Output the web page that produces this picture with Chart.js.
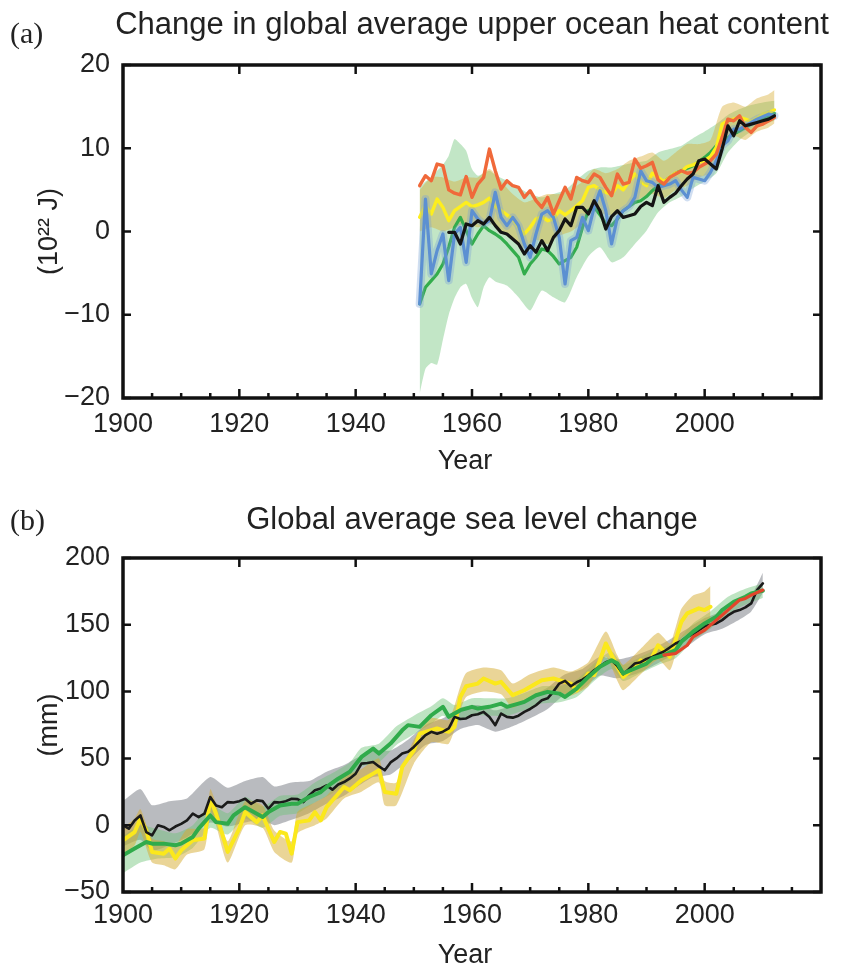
<!DOCTYPE html>
<html>
<head>
<meta charset="utf-8">
<script src="https://cdn.jsdelivr.net/npm/chart.js@4.4.1/dist/chart.umd.min.js"></script>
<style>
  html, body { margin: 0; padding: 0; background: #fff; overflow: hidden; }
  #wrap { position: relative; width: 841px; height: 969px; }
  canvas { position: absolute; left: 0; }
</style>
</head>
<body>
<div id="wrap">
  <canvas id="heat" width="841" height="493" style="top:0"></canvas>
  <canvas id="sea" width="841" height="476" style="top:493px"></canvas>
</div>
<script>
// ---------------- data: (a) upper ocean heat content, 10^22 J ----------------
function yearsFrom(a, b) { const out = []; for (let y = a; y <= b; y++) out.push(y); return out; }

const xTickLabels = [1900, 1920, 1940, 1960, 1980, 2000];
const heatTicks = [-20, -10, 0, 10, 20];
const seaTicks = [-50, 0, 50, 100, 150, 200];

const heatYears = yearsFrom(1951, 2012);
const heatOrange = [5.5, 6.7, 6.1, 8.1, 7.9, 5.0, 4.6, 4.4, 6.6, 4.1,
  5.7, 6.5, 9.9, 7.3, 5.1, 6.1, 5.5, 5.3, 4.1, 4.9,
  3.7, 2.9, 4.1, 2.1, 3.7, 5.3, 3.9, 6.5, 6.1, 5.9,
  6.9, 6.5, 5.3, 4.3, 6.9, 5.7, 5.9, 8.7, 7.6, 7.9,
  8.3, 6.2, 5.7, 6.5, 6.9, 7.3, 7.0, 7.1, 7.7, 8.1,
  8.5, 9.3, 11.3, 13.5, 13.3, 13.9, 12.5, 11.9, 12.7, 12.9,
  13.3, 13.7];
const heatYellow = [1.7, 3.1, 2.1, 3.9, 2.9, 1.3, 2.5, 3.0, 3.5, 3.0,
  3.2, 3.5, 4.0, 3.0, 2.5, 2.0, 1.5, 0.5, -0.3, 0.5,
  1.5, 1.8, 1.3, 1.5, 2.5, 2.0, 2.5, 3.1, 3.7, 5.3,
  5.5, 5.0, 4.7, 4.5, 5.5, 5.0, 6.0, 6.9, 6.0, 5.5,
  7.0, 6.5, 6.0, 6.5, 7.0, 7.2, 7.8, 8.0, 8.3, 8.5,
  9.0, 10.1, 12.9, 13.3, 13.5, 13.7, 13.5, 13.2, 13.6, 14.1,
  14.3, 14.6];
const heatBlue = [-8.7, 3.9, -5.1, -2.3, -0.3, -5.9, -0.3, 0.5, -3.7, 2.5,
  1.5, 0.9, 1.3, 4.7, 1.7, 0.7, 1.7, 0.7, -1.5, -3.1,
  -0.3, 2.1, 2.5, 1.7, -0.7, -6.3, -1.1, -0.7, 1.7, 0.1,
  2.9, 4.9, 2.5, -1.5, 1.7, 2.5, 3.0, 4.1, 7.3, 6.1,
  5.9, 5.3, 5.5, 5.7, 6.1, 5.0, 4.1, 6.5, 6.3, 6.1,
  7.1, 8.5, 10.3, 10.9, 12.3, 12.3, 12.7, 13.1, 13.5, 13.8,
  14.1, 13.9];
const heatGreen = [-8.7, -6.7, -5.9, -5.1, -3.9, -1.9, 0.5, 1.7, 0.1, -1.5,
  -0.3, 0.7, 0.1, -0.3, -0.8, -1.5, -2.3, -3.1, -5.1, -3.9,
  -3.1, -2.1, -2.3, -3.0, -3.9, -3.5, -3.1, -1.9, 0.5, 2.5,
  2.9, 2.0, 1.0, 0.7, 1.5, 2.5, 3.0, 3.5, 3.7, 4.2,
  4.9, 5.5, 6.0, 6.5, 7.0, 7.3, 7.6, 7.9, 8.4, 8.9,
  9.5, 10.3, 10.8, 11.3, 11.7, 12.1, 12.5, 12.9, 13.3, 13.5,
  13.9, 14.2];
const heatBlack = [null, null, null, null, null,
  -0.1, -0.1, -1.5, 0.9, 0.7,
  1.3, 0.9, 1.7, 0.7, -0.1, -0.3, -0.9, -1.5, -2.7, -1.7,
  -2.5, -1.1, -2.3, -0.7, 0.1, 1.5, 0.7, 2.9, 2.9, 2.1,
  3.7, 2.5, 0.3, 1.8, 2.5, 1.7, 1.9, 2.1, 3.0, 3.5,
  3.1, 5.5, 3.5, 4.1, 4.6, 5.5, 6.3, 6.9, 8.5, 8.7,
  8.1, 7.5, 9.9, 12.7, 11.5, 13.3, 12.7, 12.9, 13.1, 13.3,
  13.5, 13.9];

// uncertainty bands, panel (a)
const heatGreenBandYears = [1951, 1952, 1953, 1954, 1955, 1956, 1957, 1958, 1959, 1960, 1961, 1962, 1963, 1964,
  1966, 1968, 1970, 1972, 1974, 1976, 1978, 1980, 1982, 1984, 1986, 1988, 1990, 1992, 1994, 1996, 1998,
  2000, 2002, 2004, 2006, 2008, 2010, 2012];
const heatGreenLow = [-19.5, -16.5, -15.8, -16.0, -13.0, -10.0, -8.0, -6.7, -6.3, -8.0, -9.1, -6.7, -5.5, -6.0,
  -6.5, -7.9, -9.5, -7.1, -7.9, -8.5, -5.5, -3.0, -1.9, -3.7, -3.1, -1.5, 0.1, 2.3, 3.5, 4.2, 5.2,
  6.0, 7.0, 9.5, 11.0, 12.0, 12.8, 13.3];
const heatGreenHigh = [5.3, 6.0, 6.5, 7.3, 8.0, 9.1, 11.1, 10.5, 9.7, 7.5, 6.7, 7.0, 7.3, 6.8,
  6.1, 5.3, 4.5, 4.1, 4.5, 5.0, 6.2, 7.3, 7.7, 7.7, 8.0, 8.3, 8.5, 9.5, 9.9, 10.3, 11.2,
  12.0, 12.9, 14.0, 14.7, 15.2, 15.5, 15.7];
const heatGoldBandYears = [1951, 1953, 1955, 1957, 1959, 1961, 1963, 1965, 1967, 1969, 1971, 1973, 1975, 1977,
  1979, 1981, 1983, 1985, 1987, 1989, 1991, 1993, 1995, 1997, 1999, 2001, 2003, 2005, 2007, 2009, 2011, 2012];
const heatGoldLow = [0.0, 0.5, 0.0, 0.5, 1.0, 0.5, 1.0, 0.0, -1.0, -2.0, -1.0, -1.5, -0.5, 0.0,
  1.0, 2.5, 2.0, 2.0, 3.0, 4.0, 4.5, 4.0, 5.0, 5.5, 6.5, 7.0, 10.0, 11.5, 11.0, 12.0, 12.5, 13.0];
const heatGoldHigh = [5.0, 6.5, 6.5, 6.0, 6.5, 6.5, 7.5, 6.0, 4.5, 3.5, 4.0, 4.5, 4.5, 5.0,
  6.0, 7.5, 7.0, 7.5, 8.5, 9.0, 9.5, 8.5, 9.5, 10.5, 10.5, 11.0, 15.0, 15.5, 15.0, 16.0, 16.5, 17.0];

// ---------------- data: (b) global mean sea level, mm ----------------
const seaBlackYears = yearsFrom(1900, 2010);
const seaBlack = [-0.1, -2.6, 3.6, 7.3, -5.1, -7.6, -0.1, -1.3, -3.8, -1.0,
  1.0, 3.6, 8.6, 6.0, 8.6, 21.1, 14.8, 13.5, 17.3, 17.0,
  18.0, 19.8, 16.0, 18.6, 18.0, 12.3, 17.3, 17.0, 18.0, 19.8,
  19.5, 17.3, 22.3, 26.1, 27.5, 29.8, 26.6, 30.5, 32.3, 35.0,
  38.6, 46.1, 46.5, 47.3, 44.0, 41.1, 47.0, 50.0, 53.6, 55.0,
  58.6, 63.0, 67.4, 69.9, 68.5, 70.0, 72.4, 81.1, 79.5, 79.9,
  82.3, 83.0, 84.8, 81.0, 74.9, 83.6, 81.1, 80.5, 82.0, 84.8,
  87.0, 89.8, 93.6, 95.0, 100.0, 106.0, 108.0, 104.0, 107.0, 109.0,
  112.0, 116.0, 119.0, 122.0, 123.5, 119.0, 113.0, 117.0, 121.0, 122.0,
  124.5, 126.0, 128.0, 130.0, 133.0, 136.0, 138.0, 141.0, 143.0, 146.0,
  149.0, 150.0, 151.0, 153.5, 157.0, 159.7, 161.0, 163.0, 166.0, 176.0,
  181.0];

const seaGreenYears = [1900, 1902, 1904, 1905, 1907, 1909, 1910, 1912, 1913, 1915, 1916, 1918, 1919, 1921, 1922,
  1924, 1925, 1927, 1929, 1930, 1932, 1934, 1935, 1937, 1939, 1941, 1943, 1944, 1946, 1948, 1949, 1951,
  1953, 1955, 1956, 1958, 1960, 1961, 1963, 1965, 1966, 1968, 1969, 1971, 1973, 1975, 1976, 1978, 1980,
  1982, 1984, 1985, 1986, 1988, 1990, 1991, 1993, 1995, 1996, 1998, 2000, 2002, 2003, 2005, 2007, 2008, 2010];
const seaGreen = [-22.5, -17.5, -12.6, -13.8, -13.8, -15.0, -13.8, -8.8, -2.6, 7.3, 2.3, 1.1, 7.3, 13.5, 11.0,
  6.1, 9.8, 14.8, 16.0, 16.0, 21.1, 24.8, 28.6, 34.8, 40.0, 51.1, 57.3, 53.6, 61.1, 71.0, 74.9, 73.6,
  82.3, 88.6, 81.1, 86.1, 88.6, 87.3, 88.6, 91.0, 88.6, 91.0, 92.3, 97.3, 99.8, 98.5, 96.0, 102.2, 111.0,
  118.6, 123.5, 121.0, 113.6, 117.3, 121.0, 124.8, 127.3, 131.0, 137.3, 144.8, 151.0, 156.0, 161.0, 167.2, 171.0, 173.5, 175.5];

const seaYellowYears = [1900, 1902, 1903, 1904, 1905, 1907, 1908, 1909, 1910, 1912, 1914, 1915, 1916, 1918, 1920,
  1921, 1923, 1924, 1926, 1927, 1928, 1929, 1930, 1932, 1933, 1934, 1935, 1937, 1938, 1939, 1941, 1943,
  1944, 1945, 1947, 1948, 1950, 1951, 1953, 1954, 1956, 1957, 1958, 1959, 1961, 1962, 1964, 1965, 1967,
  1969, 1971, 1972, 1974, 1976, 1977, 1978, 1980, 1981, 1982, 1983, 1985, 1986, 1988, 1989, 1990, 1991,
  1992, 1994, 1995, 1996, 1997, 1999, 2000, 2001];
const seaYellow = [-11.3, -5.1, 4.9, -3.8, -20.0, -21.3, -17.5, -25.0, -18.8, -11.3, -10.0, 19.8, 8.6, -20.0, -2.6,
  9.8, 2.3, 7.3, -12.6, -5.1, -6.3, -21.3, 2.3, 3.6, 9.8, 3.6, 13.5, 23.5, 28.6, 26.1, 33.6, 38.6,
  41.1, 24.9, 23.6, 43.6, 56.1, 68.6, 71.1, 72.4, 69.9, 73.6, 96.0, 104.0, 106.0, 109.8, 106.0, 107.3, 97.3,
  101.0, 106.0, 108.5, 109.8, 107.3, 106.0, 101.0, 113.6, 112.3, 123.5, 136.0, 118.6, 111.0, 118.6, 123.5, 121.0, 126.0,
  134.7, 126.0, 138.5, 152.3, 158.5, 162.3, 161.0, 163.5];

const seaRedYears = [1993, 1995, 1997, 1998, 2000, 2002, 2003, 2004, 2006, 2007, 2008, 2010];
const seaRed = [127.3, 128.5, 134.7, 141.0, 146.0, 153.5, 157.2, 161.0, 168.5, 169.7, 172.2, 176.0];

// uncertainty bands, panel (b)
const seaGreyBandYears = [1900, 1903, 1905, 1908, 1911, 1915, 1918, 1921, 1924, 1926, 1929, 1932, 1935, 1938, 1940,
  1943, 1946, 1949, 1952, 1955, 1958, 1961, 1964, 1967, 1970, 1973, 1976, 1979, 1982, 1985, 1988, 1991,
  1994, 1997, 2000, 2003, 2006, 2008, 2010];
const seaGreyLow = [-16, -11, -19, -15, -9, 2, -1, 2, 4, 0, 4, 9, 16, 22, 28,
  36, 38, 48, 60, 63, 72, 75, 70, 74, 80, 87, 98, 102, 112, 110, 113, 119,
  126, 134, 143, 147, 154, 160, 174];
const seaGreyHigh = [18, 27, 15, 18, 20, 36, 28, 33, 36, 29, 32, 33, 40, 45, 50,
  56, 56, 64, 75, 80, 88, 90, 86, 90, 96, 103, 113, 117, 126, 124, 127, 132,
  139, 147, 155, 160, 167, 172, 189];
const seaGoldBandYears = [1900, 1902, 1903, 1905, 1907, 1909, 1911, 1914, 1915, 1916, 1918, 1921, 1924, 1926, 1929,
  1930, 1933, 1935, 1938, 1941, 1944, 1945, 1947, 1950, 1953, 1956, 1958, 1959, 1962, 1965, 1967, 1970,
  1974, 1977, 1980, 1983, 1985, 1986, 1989, 1992, 1994, 1995, 1996, 1998, 2000, 2001];
const seaGoldLow = [-22, -15, -5, -28, -30, -33, -22, -18, 10, 0, -28, 0, -2, -20, -28,
  -6, 0, 5, 20, 25, 32, 15, 15, 46, 62, 61, 86, 96, 100, 98, 88, 95,
  101, 97, 104, 126, 108, 101, 113, 124, 116, 128, 140, 145, 145, 148];
const seaGoldHigh = [-2, 5, 12, -10, -12, -15, -3, -2, 27, 16, -12, 18, 15, -4, -12,
  10, 17, 22, 36, 42, 50, 33, 32, 64, 80, 79, 104, 114, 118, 116, 106, 113,
  118, 115, 122, 145, 127, 120, 132, 144, 136, 148, 162, 172, 175, 179];
const seaGreenBandYears = [1900, 1903, 1906, 1909, 1912, 1915, 1918, 1921, 1924, 1927, 1930, 1933, 1936, 1939, 1941,
  1944, 1947, 1950, 1953, 1955, 1957, 1960, 1963, 1966, 1969, 1972, 1975, 1978, 1981, 1984, 1986, 1989,
  1992, 1995, 1998, 2001, 2004, 2007, 2010];
const seaGreenLow = [-36, -28, -25, -24, -17, -2, -7, 5, -2, 7, 9, 17, 24, 33, 44,
  47, 60, 68, 76, 82, 77, 82, 82, 82, 86, 91, 92, 96, 108, 117, 108, 114,
  120, 125, 138, 147, 158, 165, 170];
const seaGreenHigh = [-8, 0, -3, -6, 0, 15, 9, 21, 14, 22, 23, 32, 39, 47, 58,
  61, 74, 82, 89, 95, 90, 95, 95, 95, 99, 104, 104, 109, 121, 130, 120, 126,
  132, 137, 151, 160, 171, 177, 181];

// ---------------- helpers ----------------
const FONT = "'Liberation Sans', Arial, sans-serif";
const INK = '#222';

function pts(years, vals) {
  return years.map((yr, i) => ({ x: yr, y: vals[i] }));
}
function line(years, vals, color, width, order) {
  return {
    data: pts(years, vals), borderColor: color, borderWidth: width, pointRadius: 0,
    fill: false, order: order, tension: 0, borderJoinStyle: 'round', borderCapStyle: 'round'
  };
}
function band(years, lo, hi, color, order) {
  return [
    { data: pts(years, lo), borderColor: 'rgba(0,0,0,0)', borderWidth: 0, pointRadius: 0, fill: false, order: order, tension: 0.2 },
    { data: pts(years, hi), borderColor: 'rgba(0,0,0,0)', borderWidth: 0, pointRadius: 0, fill: '-1', backgroundColor: color, order: order, tension: 0.2 }
  ];
}
function minusFmt(v) { return v < 0 ? '\u2212' + Math.abs(v) : String(v); }

// frame, inward ticks and the text around the plot
const framePlugin = {
  id: 'frame',
  afterDatasetsDraw(chart, args, opts) {
    const { ctx, chartArea: a, scales: { x, y } } = chart;
    ctx.save();
    ctx.strokeStyle = '#111';
    ctx.lineWidth = 2.5;
    ctx.beginPath();
    for (let yr = 1905; yr < 2020; yr += 5) {
      const px = x.getPixelForValue(yr);
      const major = yr % 20 === 0;
      const len = major ? 9 : 5;
      ctx.moveTo(px, a.bottom); ctx.lineTo(px, a.bottom - len);
      if (major) { ctx.moveTo(px, a.top); ctx.lineTo(px, a.top + len); }
    }
    y.ticks.forEach(t => {
      const py = y.getPixelForValue(t.value);
      ctx.moveTo(a.left, py); ctx.lineTo(a.left + 8, py);
      ctx.moveTo(a.right, py); ctx.lineTo(a.right - 8, py);
    });
    ctx.stroke();
    ctx.lineWidth = 3.5;
    ctx.strokeRect(a.left, a.top, a.width, a.height);

    ctx.fillStyle = INK;
    ctx.textBaseline = 'middle';
    ctx.textAlign = 'center';
    ctx.font = '31px ' + FONT;
    ctx.fillText(opts.title, (a.left + a.right) / 2, a.top - opts.titleGap);
    ctx.font = '27px ' + FONT;
    ctx.fillText('Year', (a.left + a.right) / 2 - 7, a.bottom + 64);
    ctx.save();
    ctx.translate(50, (a.top + a.bottom) / 2);
    ctx.rotate(-Math.PI / 2);
    ctx.fillText(opts.yTitle, 0, 0);
    ctx.restore();
    ctx.textAlign = 'left';
    ctx.font = '30px ' + "'Liberation Serif', 'Times New Roman', serif";
    ctx.fillText(opts.letter, 10, opts.letterY);
    ctx.restore();
  }
};

function makeChart(id, datasets, yMin, yMax, yTicks, plotBottom, canvasH, tickPad, frameOpts) {
  return new Chart(document.getElementById(id), {
    type: 'line',
    data: { datasets: datasets },
    plugins: [framePlugin],
    options: {
      responsive: false,
      animation: false,
      devicePixelRatio: 1,
      layout: { padding: { top: 65, right: 20, bottom: 0, left: 0 } },
      plugins: { legend: { display: false }, tooltip: { enabled: false }, frame: frameOpts },
      scales: {
        x: {
          type: 'linear', min: 1900, max: 2020,
          grid: { display: false, drawTicks: false }, border: { display: false },
          afterBuildTicks: s => { s.ticks = xTickLabels.map(v => ({ value: v })); },
          afterFit: s => { s.height = canvasH - plotBottom; },
          ticks: { color: INK, font: { family: FONT, size: 27 }, padding: tickPad, maxRotation: 0, autoSkip: false, callback: v => String(v) }
        },
        y: {
          min: yMin, max: yMax,
          grid: { display: false, drawTicks: false }, border: { display: false },
          afterBuildTicks: s => { s.ticks = yTicks.map(v => ({ value: v })); },
          afterFit: s => { s.width = 123; },
          ticks: { color: INK, font: { family: FONT, size: 27 }, padding: 13, autoSkip: false, callback: minusFmt }
        }
      }
    }
  });
}

// ---------------- (a) ----------------
makeChart('heat', [
  line(heatYears, heatBlack, '#141414', 3.2, 1),
  line(heatYears, heatOrange, '#f0693a', 3.4, 2),
  line(heatYears, heatBlue, '#5c90d2', 3.2, 3),
  line(heatYears, heatBlue, 'rgba(120,160,215,0.35)', 8, 4),
  line(heatYears, heatYellow, '#fdee1e', 3.4, 5),
  line(heatYears, heatGreen, '#33ad4c', 3.2, 6),
  ...band(heatGoldBandYears, heatGoldLow, heatGoldHigh, 'rgba(214,172,48,0.42)', 8),
  ...band(heatGreenBandYears, heatGreenLow, heatGreenHigh, 'rgba(110,195,120,0.42)', 9)
], -20, 20, heatTicks, 398, 493, 10,
  { title: 'Change in global average upper ocean heat content', titleGap: 40, yTitle: '(10\u00b2\u00b2 J)', letter: '(a)', letterY: 35 });

// ---------------- (b) ----------------
makeChart('sea', [
  line(seaRedYears, seaRed, '#e2452b', 3.2, 1),
  line(seaGreenYears, seaGreen, '#30ab4b', 4, 2),
  line(seaBlackYears, seaBlack, '#1a1a1a', 2.6, 3),
  line(seaYellowYears, seaYellow, '#fbe81c', 4, 4),
  ...band(seaGoldBandYears, seaGoldLow, seaGoldHigh, 'rgba(214,172,48,0.5)', 8),
  ...band(seaGreenBandYears, seaGreenLow, seaGreenHigh, 'rgba(110,195,120,0.45)', 9),
  ...band(seaGreyBandYears, seaGreyLow, seaGreyHigh, 'rgba(100,104,114,0.45)', 10)
], -50, 200, seaTicks, 399, 476, 7,
  { title: 'Global average sea level change', titleGap: 38, yTitle: '(mm)', letter: '(b)', letterY: 29 });
</script>
</body>
</html>
